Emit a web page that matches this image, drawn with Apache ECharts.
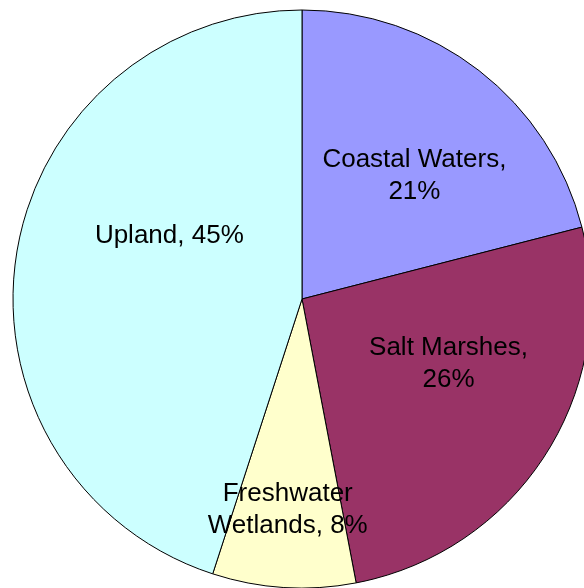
<!DOCTYPE html>
<html>
<head>
<meta charset="utf-8">
<style>
  html, body { margin: 0; padding: 0; background: #ffffff; }
  #chart { width: 584px; height: 588px; }
</style>
<script src="https://cdn.jsdelivr.net/npm/echarts@6/dist/echarts.min.js"></script>
</head>
<body>
<div id="chart"></div>
<script>
// Share of area by habitat type
const categories = ['Coastal Waters', 'Salt Marshes', 'Freshwater Wetlands', 'Upland'];
const shares = [21, 26, 8, 45];
const labelTexts = ['Coastal Waters,\n21%', 'Salt Marshes,\n26%', 'Freshwater\nWetlands, 8%', 'Upland, 45%'];
const sliceColors = ['#9999FF', '#993366', '#FFFFCC', '#CCFFFF'];

// Nudges applied to each label from its default inside position
const labelShift = [[22, -7], [22, -14], [-5, 64], [13, -40]];

const chart = echarts.init(document.getElementById('chart'), null, { renderer: 'canvas' });

chart.setOption({
  backgroundColor: '#ffffff',
  animation: false,
  series: [{
    type: 'pie',
    center: [302, 299],
    radius: 289,
    startAngle: 90,
    clockwise: true,
    silent: true,
    data: categories.map((name, i) => ({
      name: name,
      value: shares[i],
      itemStyle: { color: sliceColors[i] },
      label: { formatter: labelTexts[i] }
    })),
    itemStyle: { borderColor: '#000000', borderWidth: 1 },
    label: {
      show: true,
      position: 'inside',
      color: '#000000',
      fontFamily: 'Liberation Sans, Arial, sans-serif',
      fontSize: 26,
      lineHeight: 32,
      align: 'center',
      textBorderWidth: 0
    },
    labelLine: { show: false },
    labelLayout: function (params) {
      const s = labelShift[params.dataIndex];
      return { dx: s[0], dy: s[1] };
    }
  }]
});
</script>
</body>
</html>
